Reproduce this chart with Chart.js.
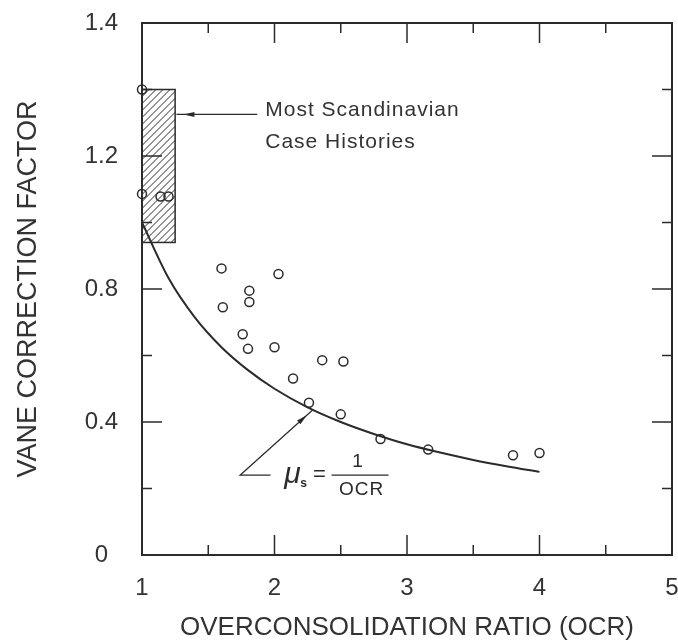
<!DOCTYPE html>
<html>
<head>
<meta charset="utf-8">
<script src="https://cdn.jsdelivr.net/npm/chart.js@4.4.0/dist/chart.umd.min.js"></script>
<style>
    html, body { margin: 0; padding: 0; background: #fff; }
    #wrap { width: 678px; height: 643px; }
</style>
</head>
<body>
<div id="wrap"><canvas id="vaneChart" width="678" height="643"></canvas></div>
<script>
// Field vane case records (OCR, correction factor)
const ocrValues   = [1.00, 1.00, 1.14, 1.20, 1.60, 1.61, 1.76, 1.80, 1.81, 1.81, 2.00,
                     2.03, 2.14, 2.26, 2.36, 2.50, 2.52, 2.80, 3.16, 3.80, 4.00];
const vaneFactors = [1.40, 1.086, 1.078, 1.078, 0.862, 0.745, 0.664, 0.620, 0.795, 0.761, 0.625,
                     0.845, 0.531, 0.458, 0.586, 0.423, 0.582, 0.349, 0.317, 0.300, 0.307];

// mu = 1/OCR curve as drawn
const curveOcr    = [1.0, 1.2, 1.4, 1.6, 1.8, 2.0, 2.25, 2.5, 2.75, 3.0, 3.25, 3.5, 3.75, 4.0];
const curveFactor = [1.0, 0.833, 0.714, 0.625, 0.556, 0.5, 0.444, 0.4, 0.364, 0.333, 0.308, 0.286, 0.267, 0.25];

// Scandinavian case histories band (OCR range, factor range)
const bandOcr    = [1.0, 1.25];
const bandFactor = [0.94, 1.40];

// axis ticks
const xTickLabels = ['1', '2', '3', '4', '5'];
const yTickLabels = ['0', '0.4', '0.8', '1.2', '1.4'];   // top label printed as 1.4 in the original
const xMajorTicks = [2, 3, 4];
const xMinorTicks = [1.5, 2.5, 3.5, 4.5];
const yMajorTicks = [0.4, 0.8, 1.2];
const yMinorTicks = [0.2, 0.6, 1.0, 1.4];

const INK = '#2b2b2b';
const FONT = '"Liberation Sans", Arial, sans-serif';

// annotation anchors in data units
const bandNote  = { from: [1.87, 1.325], to: [1.26, 1.325], text: [1.93, 1.339], text2: [1.93, 1.24] };
const curveNote = { start: [1.74, 0.24], elbow: [1.97, 0.24], tip: [2.29, 0.437] };

function arrowHead(ctx, x, y, ang, len, half) {
    ctx.beginPath();
    ctx.moveTo(x, y);
    ctx.lineTo(x - len * Math.cos(ang) + half * Math.sin(ang), y - len * Math.sin(ang) - half * Math.cos(ang));
    ctx.lineTo(x - len * Math.cos(ang) - half * Math.sin(ang), y - len * Math.sin(ang) + half * Math.cos(ang));
    ctx.closePath();
    ctx.fill();
}

// drop the label overhang padding so the plot box sits where layout.padding says
function noOverhang(s) {
    s.paddingTop = 0; s.paddingBottom = 0; s.paddingLeft = 0; s.paddingRight = 0;
}

const bandPlugin = {
    id: 'band',
    beforeDatasetsDraw(chart) {
        const { ctx, scales: { x, y } } = chart;
        const x0 = x.getPixelForValue(bandOcr[0]), x1 = x.getPixelForValue(bandOcr[1]);
        const y0 = y.getPixelForValue(bandFactor[1]), y1 = y.getPixelForValue(bandFactor[0]);
        ctx.save();
        ctx.beginPath();
        ctx.rect(x0, y0, x1 - x0, y1 - y0);
        ctx.clip();
        ctx.strokeStyle = INK;
        ctx.lineWidth = 1;
        const h = y1 - y0;
        for (let k = -h; k < x1 - x0; k += 7) {
            ctx.beginPath();
            ctx.moveTo(x0 + k, y1);
            ctx.lineTo(x0 + k + h, y0);
            ctx.stroke();
        }
        ctx.restore();
        ctx.save();
        ctx.strokeStyle = INK;
        ctx.lineWidth = 1.5;
        ctx.strokeRect(x0, y0, x1 - x0, y1 - y0);
        ctx.restore();
    }
};

const framePlugin = {
    id: 'frame',
    afterDatasetsDraw(chart) {
        const { ctx, chartArea: a, scales: { x, y } } = chart;
        ctx.save();
        ctx.strokeStyle = INK;
        ctx.fillStyle = INK;
        ctx.lineWidth = 2;
        ctx.strokeRect(a.left, a.top, a.right - a.left, a.bottom - a.top);

        // inward ticks on all four sides
        ctx.lineWidth = 1.5;
        const tickX = (vals, len) => vals.forEach(v => {
            const px = x.getPixelForValue(v);
            ctx.beginPath();
            ctx.moveTo(px, a.bottom); ctx.lineTo(px, a.bottom - len);
            ctx.moveTo(px, a.top); ctx.lineTo(px, a.top + len);
            ctx.stroke();
        });
        const tickY = (vals, len) => vals.forEach(v => {
            const py = y.getPixelForValue(v);
            ctx.beginPath();
            ctx.moveTo(a.left, py); ctx.lineTo(a.left + len, py);
            ctx.moveTo(a.right, py); ctx.lineTo(a.right - len, py);
            ctx.stroke();
        });
        tickX(xMajorTicks, 20); tickX(xMinorTicks, 10);
        tickY(yMajorTicks, 20); tickY(yMinorTicks, 10);

        // band label and arrow
        ctx.lineWidth = 1.2;
        const fx = x.getPixelForValue(bandNote.from[0]), fy = y.getPixelForValue(bandNote.from[1]);
        const tx = x.getPixelForValue(bandNote.to[0]);
        ctx.beginPath();
        ctx.moveTo(fx, fy); ctx.lineTo(tx, fy);
        ctx.stroke();
        arrowHead(ctx, tx + 7, fy, Math.PI, 11, 2.5);

        ctx.font = '21px ' + FONT;
        ctx.fillStyle = '#333';
        ctx.textBaseline = 'middle';
        ctx.textAlign = 'left';
        if ('letterSpacing' in ctx) ctx.letterSpacing = '1px';
        ctx.fillText('Most Scandinavian', x.getPixelForValue(bandNote.text[0]), y.getPixelForValue(bandNote.text[1]));
        ctx.fillText('Case Histories', x.getPixelForValue(bandNote.text2[0]), y.getPixelForValue(bandNote.text2[1]));

        // curve label
        ctx.fillStyle = INK;
        const sx = x.getPixelForValue(curveNote.start[0]), sy = y.getPixelForValue(curveNote.start[1]);
        const ex = x.getPixelForValue(curveNote.elbow[0]);
        const px = x.getPixelForValue(curveNote.tip[0]), py = y.getPixelForValue(curveNote.tip[1]);
        ctx.beginPath();
        ctx.moveTo(ex, sy); ctx.lineTo(sx, sy); ctx.lineTo(px, py);
        ctx.stroke();
        const ang = Math.atan2(py - sy, px - sx);
        arrowHead(ctx, px - 8 * Math.cos(ang), py - 8 * Math.sin(ang), ang, 11, 2.5);

        if ('letterSpacing' in ctx) ctx.letterSpacing = '0px';
        ctx.textAlign = 'center';
        ctx.font = 'italic 30px ' + FONT;
        ctx.fillText('\u03bc', ex + 22, sy - 1);
        ctx.font = 'bold 12px ' + FONT;
        ctx.fillText('s', ex + 33, sy + 8);
        ctx.font = '22px ' + FONT;
        ctx.fillText('=', ex + 49, sy);
        ctx.lineWidth = 1.3;
        ctx.beginPath();
        ctx.moveTo(ex + 61, sy); ctx.lineTo(ex + 118, sy);
        ctx.stroke();
        ctx.font = '19px ' + FONT;
        ctx.fillText('1', ex + 87, sy - 13);
        if ('letterSpacing' in ctx) ctx.letterSpacing = '1px';
        ctx.fillText('OCR', ex + 91, sy + 15);
        ctx.restore();
    }
};

function initChart() {
    const ctx = document.getElementById('vaneChart').getContext('2d');
    new Chart(ctx, {
        type: 'scatter',
        data: {
            datasets: [{
                label: 'Case records',
                data: ocrValues.map((v, i) => ({ x: v, y: vaneFactors[i] })),
                pointStyle: 'circle',
                pointRadius: 4.5,
                pointBorderWidth: 1.5,
                borderColor: INK,
                backgroundColor: 'rgba(0,0,0,0)',
                clip: false
            }, {
                label: 'mu = 1/OCR',
                type: 'line',
                data: curveOcr.map((v, i) => ({ x: v, y: curveFactor[i] })),
                borderColor: INK,
                borderWidth: 2,
                pointRadius: 0,
                cubicInterpolationMode: 'monotone',
                fill: false
            }]
        },
        options: {
            responsive: false,
            animation: false,
            devicePixelRatio: 1,
            layout: { padding: { top: 23, right: 6, left: 0, bottom: 0 } },
            plugins: { legend: { display: false }, tooltip: { enabled: false } },
            scales: {
                x: {
                    type: 'linear',
                    min: 1, max: 5,
                    grid: { display: false },
                    border: { display: false },
                    afterFit: s => { s.height = 88; noOverhang(s); },
                    afterBuildTicks: s => { s.ticks = xTickLabels.map((t, i) => ({ value: i + 1 })); },
                    ticks: {
                        autoSkip: false,
                        maxRotation: 0,
                        padding: 11,
                        color: '#333',
                        font: { family: FONT, size: 24 },
                        callback: (v, i) => xTickLabels[i]
                    },
                    title: {
                        display: true,
                        text: 'OVERCONSOLIDATION RATIO (OCR)',
                        color: '#333',
                        padding: { top: 0, bottom: 0 },
                        font: { family: FONT, size: 26 }
                    }
                },
                y: {
                    min: 0, max: 1.6,
                    grid: { display: false },
                    border: { display: false },
                    afterFit: s => { s.width = 142; noOverhang(s); },
                    afterBuildTicks: s => { s.ticks = yTickLabels.map((t, i) => ({ value: i * 0.4 })); },
                    ticks: {
                        autoSkip: false,
                        crossAlign: 'center',
                        padding: 16,
                        color: '#333',
                        font: { family: FONT, size: 24 },
                        callback: (v, i) => yTickLabels[i]
                    },
                    title: {
                        display: true,
                        text: 'VANE CORRECTION FACTOR',
                        color: '#333',
                        padding: { top: 12, bottom: 0 },
                        font: { family: FONT, size: 27 }
                    }
                }
            }
        },
        plugins: [bandPlugin, framePlugin]
    });
}

document.addEventListener('DOMContentLoaded', initChart);
</script>
</body>
</html>
